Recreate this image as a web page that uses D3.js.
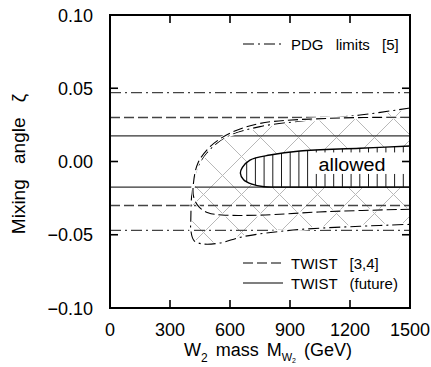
<!DOCTYPE html>
<html><head><meta charset="utf-8">
<script src="https://cdn.jsdelivr.net/npm/d3@7"></script>
<style>
body{margin:0;background:#fff;}
svg text{font-family:"Liberation Sans",Arial,Helvetica,sans-serif;fill:#000;}
</style></head>
<body><svg id="c" width="431" height="367"></svg>
<script>
// ---- data ----
const xTicks = [0, 300, 600, 900, 1200, 1500];
const yTicks = [-0.10, -0.05, 0.00, 0.05, 0.10];
const yTickLabels = ["\u22120.10", "\u22120.05", "0.00", "0.05", "0.10"];
// horizontal limits
const pdgLimit = 0.047;
const twistLimit = 0.030;
const futureLimit = 0.0175;
// PDG (dash-dot) contour: [M (GeV), zeta]
const pdgCurve = [
  [1500, 0.0365], [1250, 0.0317], [1000, 0.0283], [750, 0.0238], [583, 0.0169],
  [483, 0.0058], [433, -0.0058], [415, -0.0172], [408, -0.024], [404, -0.040],
  [404, -0.0468], [420, -0.0540], [465, -0.0563], [550, -0.0556], [665, -0.0513],
  [915, -0.0468], [1250, -0.0442], [1500, -0.0429]
];
// TWIST (dashed) contour
const twistCurve = [
  [1500, 0.0302], [1100, 0.0295], [750, 0.0260], [600, 0.0193], [500, 0.0101],
  [440, -0.001], [418, -0.014], [418, -0.024], [445, -0.031], [490, -0.0350],
  [560, -0.0365], [750, -0.0366], [1083, -0.0342], [1500, -0.0326]
];
// allowed region (solid)
const allowedCurve = [
  [1500, 0.0106], [1250, 0.0090], [950, 0.0072], [800, 0.0044], [700, 0.0010],
  [662, -0.004], [652, -0.008], [668, -0.0125], [710, -0.0155], [770, -0.0172],
  [830, -0.0175], [1500, -0.0175]
];

// ---- layout ----
const svg = d3.select("#c");
const x = d3.scaleLinear().domain([0, 1500]).range([110, 410]);
const y = d3.scaleLinear().domain([-0.10, 0.10]).range([308, 15]);
const line = d3.line().x(d => x(d[0])).y(d => y(d[1])).curve(d3.curveCatmullRom.alpha(0.5));

const defs = svg.append("defs");
defs.append("clipPath").attr("id", "plotClip").append("rect")
  .attr("x", x(0)).attr("y", y(0.1)).attr("width", x(1500) - x(0)).attr("height", y(-0.1) - y(0.1));
defs.append("clipPath").attr("id", "pdgClip").append("path")
  .attr("d", line(pdgCurve) + "Z");
defs.append("clipPath").attr("id", "allowClip").append("path")
  .attr("d", line(allowedCurve) + "Z");

const g = svg.append("g").attr("clip-path", "url(#plotClip)");

// cross hatch inside PDG contour
const hatch = g.append("g").attr("clip-path", "url(#pdgClip)");
const sp = 38;
d3.range(-400, 900, sp).forEach(o => {
  hatch.append("line").attr("x1", x(0) + o).attr("y1", y(-0.1)).attr("x2", x(0) + o + 300).attr("y2", y(-0.1) - 300)
    .attr("stroke", "#b8b8b8").attr("stroke-width", 1);
  hatch.append("line").attr("x1", x(0) + o + 10).attr("y1", y(0.1)).attr("x2", x(0) + o + 310).attr("y2", y(0.1) + 300)
    .attr("stroke", "#b8b8b8").attr("stroke-width", 1);
});

// allowed region: white + vertical hatch
g.append("path").attr("d", line(allowedCurve) + "Z").attr("fill", "#fff");
const vh = g.append("g").attr("clip-path", "url(#allowClip)");
d3.range(x(640), x(1500), 8.7).forEach(px => {
  vh.append("line").attr("x1", px).attr("x2", px).attr("y1", y(0.02)).attr("y2", y(-0.02))
    .attr("stroke", "#000").attr("stroke-width", 0.9);
});

// horizontal limit lines
const hl = (v, dash, col, w) => [v, -v].forEach(val => {
  g.append("line").attr("x1", x(0)).attr("x2", x(1500)).attr("y1", y(val)).attr("y2", y(val))
    .attr("stroke", col).attr("stroke-width", w).attr("stroke-dasharray", dash);
});
hl(pdgLimit, "11,4,2,4", "#444", 1.4);
hl(twistLimit, "10,4", "#444", 1.4);
hl(futureLimit, null, "#333", 1.4);

// contours
g.append("path").attr("d", line(pdgCurve)).attr("fill", "none").attr("stroke", "#fff").attr("stroke-width", 3);
g.append("path").attr("d", line(pdgCurve)).attr("fill", "none").attr("stroke", "#000").attr("stroke-width", 1.1)
  .attr("stroke-dasharray", "11,4,2,4");
g.append("path").attr("d", line(twistCurve)).attr("fill", "none").attr("stroke", "#fff").attr("stroke-width", 3);
g.append("path").attr("d", line(twistCurve)).attr("fill", "none").attr("stroke", "#000").attr("stroke-width", 1.1)
  .attr("stroke-dasharray", "10,4");
g.append("path").attr("d", line(allowedCurve)).attr("fill", "none").attr("stroke", "#000").attr("stroke-width", 1.4);

// "allowed" label with white box
const lab = svg.append("text").attr("x", 352).attr("y", y(0.0) + 9.5).attr("text-anchor", "middle")
  .attr("font-size", 18).attr("textLength", 67).attr("lengthAdjust", "spacingAndGlyphs").text("allowed");
const bb = lab.node().getBBox();
svg.insert("rect", "text").attr("x", bb.x - 4).attr("y", y(0.0062)).attr("width", x(1500) - bb.x + 4)
  .attr("height", y(-0.0085) - y(0.0062)).attr("fill", "#fff");

// frame
svg.append("rect").attr("x", x(0)).attr("y", y(0.1)).attr("width", x(1500) - x(0)).attr("height", y(-0.1) - y(0.1))
  .attr("fill", "none").attr("stroke", "#000").attr("stroke-width", 2);

// ticks
const tl = 8;
xTicks.forEach(t => {
  svg.append("line").attr("x1", x(t)).attr("x2", x(t)).attr("y1", y(-0.1)).attr("y2", y(-0.1) - tl).attr("stroke", "#000").attr("stroke-width", 1.6);
  svg.append("line").attr("x1", x(t)).attr("x2", x(t)).attr("y1", y(0.1)).attr("y2", y(0.1) + tl).attr("stroke", "#000").attr("stroke-width", 1.6);
  svg.append("text").attr("x", x(t)).attr("y", 336).attr("text-anchor", "middle").attr("font-size", 18).text(t);
});
yTicks.forEach((t, i) => {
  svg.append("line").attr("x1", x(0)).attr("x2", x(0) + tl).attr("y1", y(t)).attr("y2", y(t)).attr("stroke", "#000").attr("stroke-width", 1.6);
  svg.append("line").attr("x1", x(1500)).attr("x2", x(1500) - tl).attr("y1", y(t)).attr("y2", y(t)).attr("stroke", "#000").attr("stroke-width", 1.6);
  svg.append("text").attr("x", 93).attr("y", y(t) + 6.5).attr("text-anchor", "end").attr("font-size", 18).text(yTickLabels[i]);
});

// axis titles
const xt = svg.append("text").attr("x", 268).attr("y", 356).attr("text-anchor", "middle").attr("font-size", 18)
  .attr("word-spacing", 3);
xt.append("tspan").text("W");
xt.append("tspan").attr("font-size", 12).attr("dy", 6).text("2");
xt.append("tspan").attr("dy", -6).text(" mass M");
xt.append("tspan").attr("font-size", 11).attr("dy", 5).text("W");
xt.append("tspan").attr("font-size", 7).attr("dy", 2).text("2");
xt.append("tspan").attr("dy", -7).text(" (GeV)");

svg.append("text").attr("transform", "translate(25,164) rotate(-90)").attr("text-anchor", "middle")
  .attr("font-size", 19).attr("word-spacing", 10).text("Mixing angle \u03B6");

// legends
const leg = [
  {label: "PDG limits [5]", dash: "11,4,2,4", yy: 44},
  {label: "TWIST [3,4]", dash: "10,4", yy: 263},
  {label: "TWIST (future)", dash: null, yy: 283}
];
leg.forEach(d => {
  svg.append("line").attr("x1", 243).attr("x2", 283).attr("y1", d.yy).attr("y2", d.yy)
    .attr("stroke", "#000").attr("stroke-width", 1.2).attr("stroke-dasharray", d.dash);
  svg.append("text").attr("x", 291).attr("y", d.yy + 5.5).attr("font-size", 15)
    .attr("word-spacing", 8).text(d.label);
});
</script></body></html>
